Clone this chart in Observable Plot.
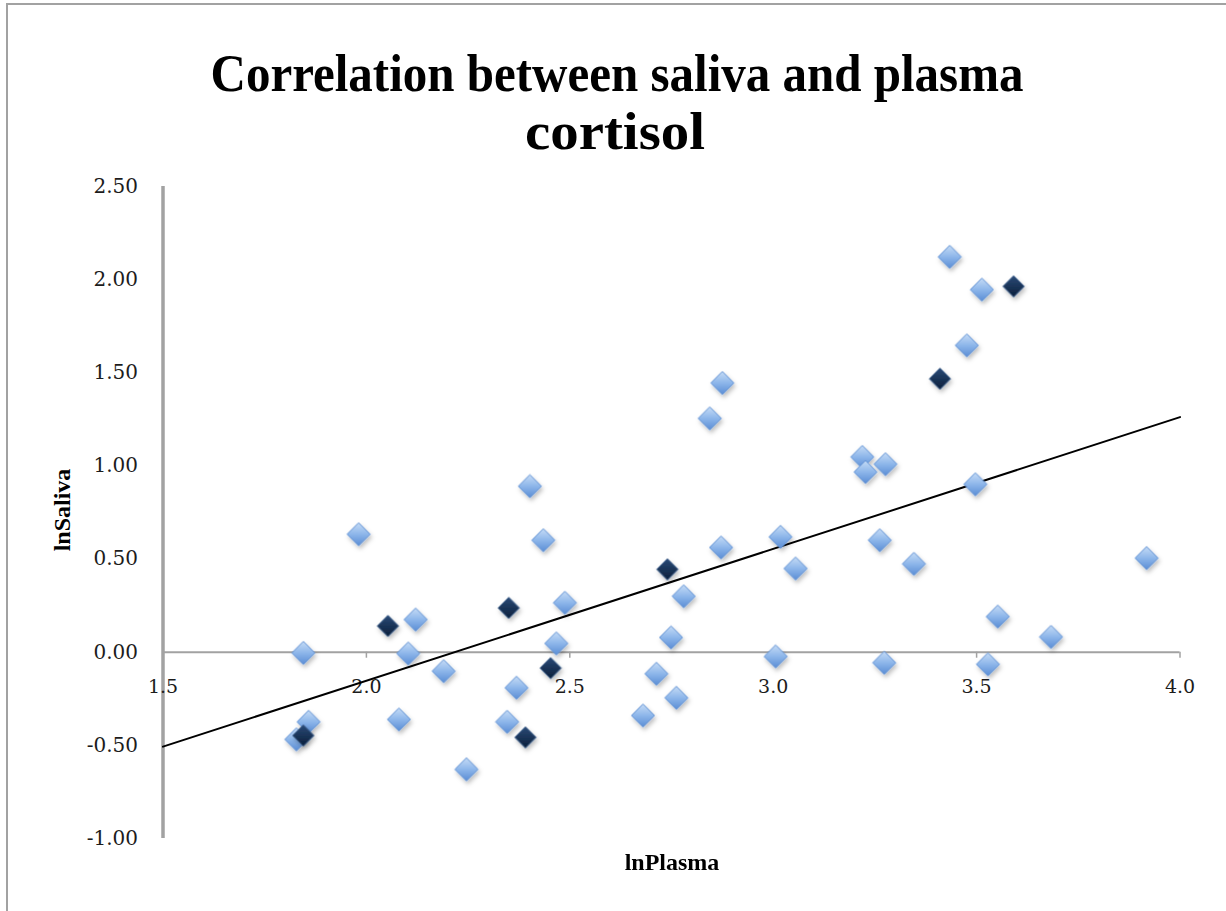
<!DOCTYPE html>
<html>
<head>
<meta charset="utf-8">
<script src="https://cdn.jsdelivr.net/npm/d3@7"></script>
<script src="https://cdn.jsdelivr.net/npm/@observablehq/plot@0.6"></script>
<style>
  html, body { margin: 0; padding: 0; background: #fff; }
  #wrap { position: relative; width: 1226px; height: 911px; overflow: hidden; background: #fff; }
  #frame { position: absolute; left: 6px; top: 3px; width: 1230px; height: 920px;
           border-left: 2px solid #a2a2a2; border-top: 2px solid #a2a2a2; pointer-events: none; }
  #chart { position: absolute; left: 0; top: 0; }
</style>
</head>
<body>
<div id="wrap"><div id="chart"></div><div id="frame"></div></div>
<script>
// ---- data ----
const titleLines = ["Correlation between saliva and plasma", "cortisol"];
const xLabel = "lnPlasma";
const yLabel = "lnSaliva";

const lightX = [1.981, 2.435, 2.488, 2.121, 1.845, 2.103, 2.467, 2.190, 2.369, 1.858,
                1.828, 2.080, 2.346, 2.246, 2.402, 2.749, 2.713, 2.762, 2.680, 2.780,
                2.872, 2.844, 2.875, 3.018, 3.055, 3.006, 3.219, 3.227, 3.276, 3.262,
                3.346, 3.273, 3.434, 3.513, 3.476, 3.497, 3.918, 3.552, 3.683, 3.528];
const lightY = [0.633, 0.601, 0.265, 0.175, -0.004, -0.007, 0.047, -0.102, -0.191, -0.374,
                -0.468, -0.361, -0.374, -0.629, 0.891, 0.079, -0.116, -0.245, -0.340, 0.300,
                0.562, 1.255, 1.445, 0.619, 0.449, -0.023, 1.048, 0.967, 1.009, 0.601,
                0.474, -0.057, 2.122, 1.946, 1.647, 0.901, 0.505, 0.191, 0.082, -0.065];

const darkX = [2.053, 2.350, 2.453, 1.845, 2.391, 2.740, 3.410, 3.591];
const darkY = [0.141, 0.238, -0.085, -0.447, -0.457, 0.445, 1.468, 1.964];

const trendX = [1.5, 4.0];
const trendY = [-0.507, 1.262];

const xTicks = [1.5, 2.0, 2.5, 3.0, 3.5, 4.0];
const xTickLabels = ["1.5", "2.0", "2.5", "3.0", "3.5", "4.0"];
const yTicks = [-1.0, -0.5, 0.0, 0.5, 1.0, 1.5, 2.0, 2.5];
const yTickLabels = ["-1.00", "-0.50", "0.00", "0.50", "1.00", "1.50", "2.00", "2.50"];

// ---- build tables ----
const light = lightX.map((x, i) => ({x, y: lightY[i]}));
const dark = darkX.map((x, i) => ({x, y: darkY[i]}));
const trend = trendX.map((x, i) => ({x, y: trendY[i]}));

const W = 1226, H = 911;
const mL = 162.5, mR = 46.5, mT = 186, mB = 73;
const pxPerY = (H - mT - mB) / (yTicks[yTicks.length - 1] - yTicks[0]);
const tickLen = 6 / pxPerY; // 6px tick in data units

const axisGray = "#a2a2a2";

const chart = Plot.plot({
  width: W, height: H,
  marginLeft: mL, marginRight: mR, marginTop: mT, marginBottom: mB,
  x: {domain: [xTicks[0], xTicks[xTicks.length - 1]], axis: null},
  y: {domain: [yTicks[0], yTicks[yTicks.length - 1]], axis: null},
  style: {background: "transparent", fontFamily: "'DejaVu Serif', serif", color: "#1c1c1c", overflow: "visible"},
  marks: [
    Plot.ruleY([0], {stroke: axisGray, strokeWidth: 2}),
    Plot.ruleX(xTicks.slice(1), {x: d => d, y1: 0, y2: -tickLen, stroke: axisGray, strokeWidth: 1.5}),
    Plot.ruleX([xTicks[0]], {stroke: axisGray, strokeWidth: 3.5}),
    Plot.text(xTicks, {x: d => d, y: 0, text: (d, i) => xTickLabels[i], dy: 35, fontSize: 19, fill: "#1c1c1c"}),
    Plot.text(yTicks, {x: xTicks[0], y: d => d, text: (d, i) => yTickLabels[i], dx: -25, textAnchor: "end", fontSize: 20, fill: "#1c1c1c"}),
    Plot.line(trend, {x: "x", y: "y", stroke: "#000", strokeWidth: 2}),
    Plot.dot(light, {x: "x", y: "y", symbol: "diamond2", r: 10.4, fill: "#8cb5ea", stroke: "#5f90d3", strokeWidth: 1}),
    Plot.dot(dark, {x: "x", y: "y", symbol: "diamond2", r: 9.6, fill: "#14305a", stroke: "#3d5f8c", strokeWidth: 1})
  ]
});

document.getElementById("chart").appendChild(chart);

// ---- styling: gradients + drop shadows on diamonds ----
const svg = d3.select(chart);
const defs = svg.insert("defs", ":first-child");
const gl = defs.append("linearGradient").attr("id", "gLight").attr("x1", 0).attr("y1", 0).attr("x2", 0).attr("y2", 1);
gl.append("stop").attr("offset", "0").attr("stop-color", "#c6dcf6");
gl.append("stop").attr("offset", "0.5").attr("stop-color", "#8db6ea");
gl.append("stop").attr("offset", "1").attr("stop-color", "#5a8dd5");
const gd = defs.append("linearGradient").attr("id", "gDark").attr("x1", 0).attr("y1", 0).attr("x2", 0).attr("y2", 1);
gd.append("stop").attr("offset", "0").attr("stop-color", "#2a4a76");
gd.append("stop").attr("offset", "1").attr("stop-color", "#0b1f3b");
const f = defs.append("filter").attr("id", "shadow").attr("x", "-60%").attr("y", "-60%").attr("width", "220%").attr("height", "220%");
f.append("feDropShadow").attr("dx", 1.5).attr("dy", 3).attr("stdDeviation", 2.2).attr("flood-color", "#000").attr("flood-opacity", 0.25);

const dotGroups = chart.querySelectorAll('g[aria-label="dot"]');
if (dotGroups[0]) { dotGroups[0].setAttribute("fill", "url(#gLight)"); dotGroups[0].setAttribute("filter", "url(#shadow)"); }
if (dotGroups[1]) { dotGroups[1].setAttribute("fill", "url(#gDark)"); dotGroups[1].setAttribute("filter", "url(#shadow)"); }

// ---- title and axis labels as real text ----
const titleFont = "'Liberation Serif', 'Times New Roman', serif";
const t = svg.append("g").attr("font-family", titleFont).attr("font-weight", "bold").attr("fill", "#000").attr("text-anchor", "middle");
t.append("text").attr("x", 617).attr("y", 91).attr("font-size", 52)
  .attr("textLength", 813).attr("lengthAdjust", "spacingAndGlyphs").text(titleLines[0]);
t.append("text").attr("x", 615).attr("y", 149).attr("font-size", 52)
  .attr("textLength", 180).attr("lengthAdjust", "spacingAndGlyphs").text(titleLines[1]);

svg.append("text").attr("x", 672).attr("y", 870).attr("text-anchor", "middle")
  .attr("font-family", titleFont).attr("font-weight", "bold").attr("font-size", 24).attr("fill", "#000")
  .text(xLabel);
svg.append("text").attr("transform", "translate(70,510) rotate(-90)").attr("text-anchor", "middle")
  .attr("font-family", titleFont).attr("font-weight", "bold").attr("font-size", 24).attr("fill", "#000")
  .text(yLabel);
</script>
</body>
</html>
